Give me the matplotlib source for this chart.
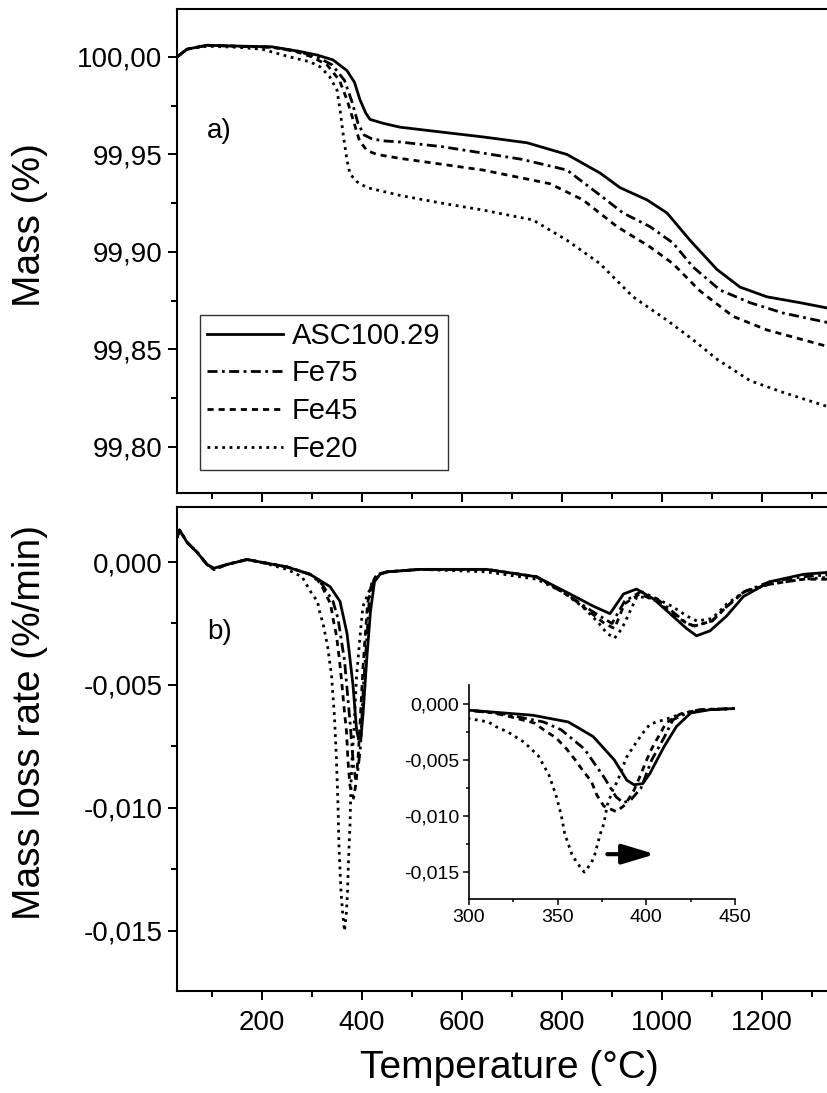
import numpy as np
import matplotlib
matplotlib.use("Agg")
import matplotlib.pyplot as plt
from matplotlib.ticker import MultipleLocator

plt.rcParams['font.family'] = ['Liberation Sans', 'DejaVu Sans']

# ---- data ----
labels = ['ASC100.29', 'Fe75', 'Fe45', 'Fe20']

# a) mass (%)
t_mass_asc = [30, 50, 90, 150, 220, 276, 310, 342, 370, 385, 396, 408, 416, 442, 476, 542, 642, 730,
              810, 876, 916, 970, 1010, 1056, 1110, 1156, 1210, 1276, 1346]
mass_asc = [100.000, 100.004, 100.006, 100.0056, 100.0052, 100.0028, 100.001, 99.9985, 99.993, 99.987,
            99.978, 99.971, 99.968, 99.966, 99.964, 99.962, 99.959, 99.956, 99.950, 99.9405, 99.933,
            99.9267, 99.920, 99.906, 99.891, 99.882, 99.877, 99.874, 99.8705]

t_mass_fe75 = [30, 50, 90, 150, 220, 270, 310, 340, 365, 380, 392, 404, 420, 442, 476, 560, 642, 720,
               810, 882, 922, 976, 1022, 1062, 1116, 1176, 1242, 1346]
mass_fe75 = [100.000, 100.004, 100.006, 100.0055, 100.005, 100.003, 100.000, 99.996, 99.988, 99.977,
             99.966, 99.960, 99.958, 99.957, 99.9564, 99.954, 99.9507, 99.9475, 99.942, 99.928, 99.920,
             99.913, 99.9046, 99.8923, 99.8805, 99.874, 99.8687, 99.8630]

t_mass_fe45 = [30, 50, 90, 150, 220, 265, 300, 330, 355, 370, 382, 395, 410, 430, 476, 642, 776, 842,
               910, 976, 1022, 1076, 1142, 1210, 1346]
mass_fe45 = [100.000, 100.004, 100.006, 100.0055, 100.005, 100.003, 100.000, 99.996, 99.988, 99.978,
             99.968, 99.957, 99.952, 99.950, 99.948, 99.942, 99.935, 99.9267, 99.913, 99.9026, 99.894,
             99.880, 99.867, 99.860, 99.8505]

t_mass_fe20 = [30, 50, 90, 150, 200, 256, 296, 316, 335, 350, 356, 362, 370, 376, 390, 410, 476, 560,
               642, 742, 810, 876, 942, 1010, 1062, 1110, 1176, 1242, 1346]
mass_fe20 = [100.000, 100.004, 100.0055, 100.005, 100.004, 100.000, 99.9975, 99.995, 99.990, 99.983,
             99.973, 99.961, 99.947, 99.940, 99.936, 99.933, 99.929, 99.925, 99.9215, 99.9164, 99.906,
             99.894, 99.877, 99.865, 99.855, 99.845, 99.834, 99.828, 99.8195]

# b) mass loss rate (%/min)
t_rate_asc = [30, 35, 50, 70, 90, 104, 130, 170, 196, 250, 296, 320, 336, 356, 370, 382, 389, 393, 398,
              402, 410, 417, 425, 436, 450, 516, 649, 749, 816, 863, 896, 923, 949, 983, 1016, 1049,
              1069, 1096, 1129, 1163, 1216, 1283, 1346]
rate_asc = [0.0010, 0.0013, 0.0008, 0.0004, -0.0001, -0.00025, -0.0001, 0.0001, 0.0, -0.0002, -0.0005,
            -0.0008, -0.0010, -0.0016, -0.0029, -0.0050, -0.0068, -0.0072, -0.0071, -0.0062, -0.0038,
            -0.0020, -0.0008, -0.0005, -0.0004, -0.0003, -0.0003, -0.0006, -0.0013, -0.0018, -0.0021,
            -0.0013, -0.0011, -0.0015, -0.0021, -0.0027, -0.0030, -0.0028, -0.0022, -0.0014, -0.0008,
            -0.0005, -0.0004]

t_rate_fe75 = [30, 35, 50, 70, 90, 104, 130, 170, 196, 250, 296, 320, 342, 352, 365, 376, 383, 387, 391,
               397, 403, 410, 415, 423, 436, 450, 516, 649, 749, 816, 860, 900, 925, 958, 990, 1020,
               1050, 1065, 1100, 1130, 1165, 1216, 1283, 1346]
rate_fe75 = [0.0010, 0.0013, 0.0008, 0.0004, -0.0001, -0.0003, -0.0001, 0.0001, 0.0, -0.0002, -0.0005,
             -0.0009, -0.0016, -0.0023, -0.0040, -0.0065, -0.0083, -0.0088, -0.0086, -0.0075, -0.0050,
             -0.0030, -0.0014, -0.0008, -0.0005, -0.0004, -0.0003, -0.0003, -0.0006, -0.0014, -0.0020,
             -0.0025, -0.0016, -0.0012, -0.0015, -0.0020, -0.0025, -0.0026, -0.0024, -0.0018, -0.0012,
             -0.0008, -0.0006, -0.0005]

t_rate_fe45 = [30, 35, 50, 70, 90, 104, 130, 170, 196, 250, 296, 310, 320, 337, 343, 349, 355, 360, 364,
               369, 372, 376, 383, 388, 393, 396, 402, 405, 408, 411, 415, 419, 430, 450, 516, 649, 749,
               816, 860, 885, 905, 925, 955, 990, 1020, 1050, 1065, 1100, 1130, 1165, 1216, 1283, 1346]
rate_fe45 = [0.0010, 0.0013, 0.0008, 0.0004, -0.0001, -0.0003, -0.0001, 0.0001, 0.0, -0.0002, -0.0005,
             -0.0007, -0.0010, -0.0017, -0.0024, -0.0030, -0.0040, -0.0050, -0.0059, -0.0069, -0.0081,
             -0.0091, -0.0096, -0.0090, -0.0077, -0.0066, -0.0043, -0.0034, -0.0026, -0.0017, -0.0013,
             -0.0009, -0.0005, -0.0004, -0.0003, -0.0003, -0.0006, -0.0014, -0.0021, -0.0025, -0.0027,
             -0.0017, -0.0013, -0.0016, -0.0021, -0.0025, -0.0026, -0.0024, -0.0018, -0.0012, -0.0009,
             -0.0007, -0.0007]

t_rate_fe20 = [30, 35, 50, 70, 90, 104, 130, 170, 196, 250, 280, 300, 311, 315, 322, 326, 331, 335, 339,
               345, 349, 352, 354, 358, 361, 365, 369, 371, 374, 376, 378, 381, 384, 386, 389, 394, 398,
               402, 408, 414, 419, 430, 450, 516, 649, 749, 800, 840, 870, 890, 905, 920, 950, 990, 1020,
               1050, 1070, 1100, 1130, 1165, 1216, 1283, 1346]
rate_fe20 = [0.0010, 0.0013, 0.0008, 0.0004, -0.0001, -0.0003, -0.0001, 0.0001, 0.0, -0.0003, -0.0006,
             -0.0013, -0.0016, -0.0020, -0.0025, -0.0029, -0.0034, -0.0040, -0.0046, -0.0063, -0.0081,
             -0.0099, -0.0116, -0.0134, -0.0142, -0.0150, -0.0142, -0.0134, -0.0116, -0.0107, -0.0090,
             -0.0077, -0.0068, -0.0059, -0.0047, -0.0035, -0.0026, -0.0018, -0.0015, -0.0012, -0.0009,
             -0.0005, -0.0004, -0.0003, -0.0004, -0.0007, -0.0012, -0.0018, -0.0024, -0.0029, -0.0031,
             -0.0027, -0.0014, -0.0015, -0.0018, -0.0022, -0.0024, -0.0023, -0.0017, -0.0012, -0.0009,
             -0.0007, -0.0006]

temp_ticks = [200, 400, 600, 800, 1000, 1200]
mass_ticks = [99.80, 99.85, 99.90, 99.95, 100.00]
mass_ticklabels = ['99,80', '99,85', '99,90', '99,95', '100,00']
rate_ticks = [-0.015, -0.010, -0.005, 0.000]
rate_ticklabels = ['-0,015', '-0,010', '-0,005', '0,000']
inset_temp_ticks = [300, 350, 400, 450]

styles = ['-', (0, (3.6, 1.6, 1.0, 1.6)), (0, (2.2, 1.8)), ':']
lw = 2.0

mass_data = [(t_mass_asc, mass_asc), (t_mass_fe75, mass_fe75), (t_mass_fe45, mass_fe45), (t_mass_fe20, mass_fe20)]
rate_data = [(t_rate_asc, rate_asc), (t_rate_fe75, rate_fe75), (t_rate_fe45, rate_fe45), (t_rate_fe20, rate_fe20)]

fig = plt.figure(figsize=(8.27, 10.93), dpi=100)
W, H = 827, 1093
ax_a = fig.add_axes([177 / W, 1 - 493 / H, 658 / W, 484 / H])
ax_b = fig.add_axes([177 / W, 1 - 991 / H, 658 / W, 484 / H])
ax_in = fig.add_axes([469 / W, 1 - 899 / H, 266 / W, 214 / H])

for (t, m), ls, lab in zip(mass_data, styles, labels):
    ax_a.plot(t, m, color='black', linestyle=ls, linewidth=lw, label=lab)
for (t, r), ls in zip(rate_data, styles):
    ax_b.plot(t, r, color='black', linestyle=ls, linewidth=lw)
    ax_in.plot(t, r, color='black', linestyle=ls, linewidth=lw)

# main axes styling
for ax in (ax_a, ax_b):
    ax.set_xlim(30, 1346)
    ax.set_xticks(temp_ticks)
    ax.xaxis.set_minor_locator(MultipleLocator(100))
    ax.tick_params(which='major', direction='out', length=6.5, width=1.4, labelsize=20, pad=4)
    ax.tick_params(which='minor', direction='out', length=4, width=1.4)
    for s in ax.spines.values():
        s.set_linewidth(1.5)

ax_a.set_ylim(99.7764, 100.0246)
ax_a.set_yticks(mass_ticks)
ax_a.set_yticklabels(mass_ticklabels)
ax_a.yaxis.set_minor_locator(MultipleLocator(0.025))
ax_a.tick_params(axis='x', labelbottom=False)

ax_b.set_ylim(-0.01744, 0.002236)
ax_b.set_yticks(rate_ticks)
ax_b.set_yticklabels(rate_ticklabels)
ax_b.yaxis.set_minor_locator(MultipleLocator(0.0025))
ax_b.tick_params(axis='x', pad=7)

ax_a.text(0.046, 0.748, 'a)', transform=ax_a.transAxes, fontsize=20, va='center')
ax_b.text(0.046, 0.742, 'b)', transform=ax_b.transAxes, fontsize=20, va='center')

leg = ax_a.legend(loc='lower left', bbox_to_anchor=(0.035, 0.0475), borderaxespad=0, fontsize=21,
                  handlelength=2.6, handletextpad=0.3, labelspacing=0.33, borderpad=0.25,
                  fancybox=False, frameon=True)
leg.get_frame().set_edgecolor('black')
leg.get_frame().set_linewidth(1.0)

# inset
ax_in.set_xlim(300, 450)
ax_in.set_ylim(-0.0174, 0.0017)
ax_in.set_xticks(inset_temp_ticks)
ax_in.xaxis.set_minor_locator(MultipleLocator(25))
ax_in.set_yticks(rate_ticks)
ax_in.set_yticklabels(rate_ticklabels)
ax_in.yaxis.set_minor_locator(MultipleLocator(0.0025))
ax_in.spines['top'].set_visible(False)
ax_in.spines['right'].set_visible(False)
for s in ('left', 'bottom'):
    ax_in.spines[s].set_linewidth(1.2)
ax_in.tick_params(which='major', direction='out', length=4, width=1.1, labelsize=14, pad=3)
ax_in.tick_params(which='minor', direction='out', length=2.5, width=1.1)
ax_in.patch.set_alpha(0)
ax_in.annotate('', xy=(405, -0.0134), xytext=(378, -0.0134),
               arrowprops=dict(arrowstyle='-|>,head_length=1.0,head_width=0.3', lw=3.0,
                               mutation_scale=20, color='black', shrinkA=0, shrinkB=0))

# axis titles
fig.text(509 / W, 1 - 1068 / H, 'Temperature (°C)', fontsize=28, ha='center', va='center')
fig.text(30 / W, 1 - 225 / H, 'Mass (%)', fontsize=28, ha='center', va='center', rotation=90)
fig.text(30 / W, 1 - 722 / H, 'Mass loss rate (%/min)', fontsize=28, ha='center', va='center', rotation=90)

fig.savefig('out.png', dpi=100)
